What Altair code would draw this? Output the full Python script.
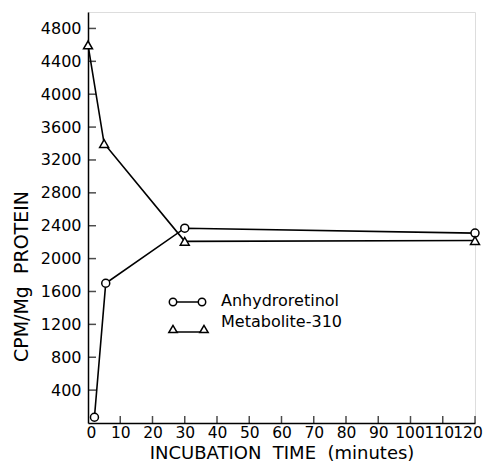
import altair as alt
import pandas as pd

# --- data ---
anhydro_time = [2, 5.5, 30, 120]
anhydro_cpm = [70, 1700, 2370, 2310]
metab_time = [0, 5, 30, 120]
metab_cpm = [4600, 3400, 2210, 2220]
y_tick_values = [400, 800, 1200, 1600, 2000, 2400, 2800, 3200, 3600, 4000, 4400, 4800]
x_tick_values = [0, 10, 20, 30, 40, 50, 60, 70, 80, 90, 100, 110, 120]
series_names = ["Anhydroretinol", "Metabolite-310"]

W, H = 387, 411
FONT = "DejaVu Sans"
NB = "\u00a0"

anhydro = pd.DataFrame({"t": anhydro_time, "cpm": anhydro_cpm})
metab = pd.DataFrame({"t": metab_time, "cpm": metab_cpm})
yt = pd.DataFrame({"cpm": y_tick_values})
xt = pd.DataFrame({"t": x_tick_values[1:]})

xs = alt.Scale(domain=[0, 120], nice=False)
ys = alt.Scale(domain=[0, 5000], nice=False)

x_axis = alt.Axis(values=x_tick_values, format="d", ticks=False, grid=False,
                  labelFont=FONT, labelFontSize=15.5, labelColor="black",
                  labelPadding=2, labelFlush=False, labelOverlap=False,
                  labelOffset={"expr": "datum.value == 120 ? -7.5 : (datum.value == 110 ? -4 : (datum.value == 100 ? -1 : (datum.value == 0 ? 3 : 0)))"},
                  domainColor="black", domainWidth=1.5,
                  title=f"INCUBATION{NB}{NB}TIME{NB}{NB}(minutes)", titleFont=FONT,
                  titleFontSize=18, titleFontWeight="normal", titleColor="black",
                  titlePadding=4)
y_axis = alt.Axis(values=y_tick_values, format="d", ticks=False, grid=False,
                  labelFont=FONT, labelFontSize=16, labelColor="black",
                  labelPadding=7, labelFlush=False, labelOverlap=False,
                  domainColor="black", domainWidth=1.5,
                  title=f"CPM/Mg{NB}{NB}PROTEIN", titleFont=FONT, titleFontSize=19,
                  titleFontWeight="normal", titleColor="black",
                  titleX=-57, titleY=264)

X = alt.X("t:Q", scale=xs, axis=x_axis)
Y = alt.Y("cpm:Q", scale=ys, axis=y_axis)

line_a = alt.Chart(anhydro).mark_line(color="black", strokeWidth=1.6).encode(x=X, y=Y)
pts_a = alt.Chart(anhydro).mark_point(shape="circle", filled=True, fill="white",
                                      stroke="black", strokeWidth=1.5, size=64,
                                      opacity=1, clip=False).encode(x=X, y=Y)
line_m = alt.Chart(metab).mark_line(color="black", strokeWidth=1.6).encode(x=X, y=Y)
pts_m = alt.Chart(metab).mark_point(shape="triangle-up", filled=True, fill="white",
                                    stroke="black", strokeWidth=1.5, size=80,
                                    opacity=1, clip=False).encode(x=X, y=Y)

# inward ticks
ytick = alt.Chart(yt).mark_tick(orient="horizontal", color="black", thickness=1.5,
                                size=8).encode(y=Y, x=alt.value(4))
xtick = alt.Chart(xt).mark_tick(orient="vertical", color="black", thickness=1.5,
                                size=7).encode(x=X, y=alt.value(H - 3.5))

# legend drawn inside the plot
leg = pd.DataFrame({"name": series_names})
leg_a = leg.iloc[[0]]
leg_m = leg.iloc[[1]]

la_line = alt.Chart(leg_a).mark_rule(color="black", strokeWidth=1.5).encode(
    x=alt.value(85), x2=alt.value(114), y=alt.value(290))
la_p1 = alt.Chart(leg_a).mark_point(shape="circle", filled=True, fill="white",
                                    stroke="black", strokeWidth=1.5, size=55,
                                    opacity=1).encode(x=alt.value(85), y=alt.value(290))
la_p2 = alt.Chart(leg_a).mark_point(shape="circle", filled=True, fill="white",
                                    stroke="black", strokeWidth=1.5, size=55,
                                    opacity=1).encode(x=alt.value(114), y=alt.value(290))
la_t = alt.Chart(leg_a).mark_text(align="left", baseline="middle", font=FONT,
                                  fontSize=16, color="black").encode(
    x=alt.value(133), y=alt.value(289), text="name:N")

lm_line = alt.Chart(leg_m).mark_rule(color="black", strokeWidth=1.5).encode(
    x=alt.value(85), x2=alt.value(116), y=alt.value(320))
lm_p1 = alt.Chart(leg_m).mark_point(shape="triangle-up", filled=True, fill="white",
                                    stroke="black", strokeWidth=1.5, size=70,
                                    opacity=1).encode(x=alt.value(85), y=alt.value(317))
lm_p2 = alt.Chart(leg_m).mark_point(shape="triangle-up", filled=True, fill="white",
                                    stroke="black", strokeWidth=1.5, size=70,
                                    opacity=1).encode(x=alt.value(116), y=alt.value(317))
lm_t = alt.Chart(leg_m).mark_text(align="left", baseline="middle", font=FONT,
                                  fontSize=16, color="black").encode(
    x=alt.value(133), y=alt.value(310), text="name:N")

chart = alt.layer(
    line_a, line_m, ytick, xtick, pts_a, pts_m,
    la_line, la_p1, la_p2, la_t, lm_line, lm_p1, lm_p2, lm_t,
).properties(
    width=W, height=H,
    autosize=alt.AutoSizeParams(type="none"),
    padding={"left": 80, "top": 4, "right": 8, "bottom": 40},
).configure_view(strokeWidth=0).configure(background="white")

chart.save("out.html", embed_options={"renderer": "svg", "actions": False})
